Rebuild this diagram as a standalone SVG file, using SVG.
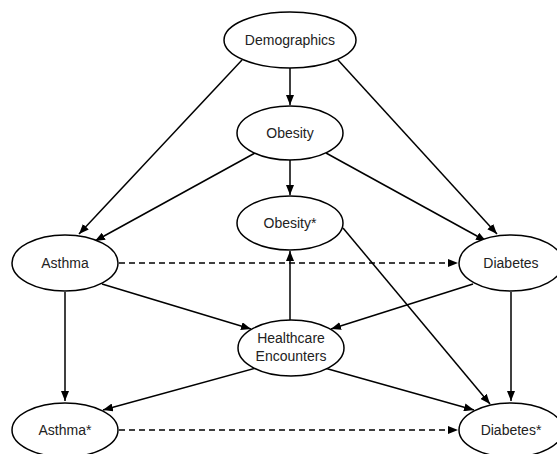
<svg xmlns="http://www.w3.org/2000/svg" width="557" height="454" viewBox="0 0 557 454">
<defs>
<marker id="ah" markerWidth="10" markerHeight="8" refX="10" refY="4" orient="auto" markerUnits="userSpaceOnUse">
<path d="M0,0 L10,4 L0,8 Z" fill="#000"/>
</marker>
<style>
.n ellipse{fill:#fff;stroke:#000;stroke-width:1.5}
.n text{font-family:"Liberation Sans",Arial,sans-serif;font-size:14px;fill:#222;text-anchor:middle}
.e line{stroke:#000;stroke-width:1.5;marker-end:url(#ah)}
.e line.d{stroke-dasharray:6,4}
</style>
</defs>
<rect width="557" height="454" fill="#fff"/>
<g id="connectors" class="e">
<line x1="290" y1="68" x2="290" y2="105"/>
<line x1="242" y1="60" x2="79" y2="234"/>
<line x1="338" y1="60" x2="497" y2="234"/>
<line x1="255" y1="153" x2="95" y2="241"/>
<line x1="326" y1="153" x2="486" y2="241"/>
<line x1="290" y1="160" x2="290" y2="195"/>
<line x1="343" y1="228" x2="490" y2="404"/>
<line class="d" x1="119" y1="263" x2="458" y2="263"/>
<line x1="102" y1="284" x2="251" y2="329"/>
<line x1="473" y1="284" x2="331" y2="329"/>
<line x1="290" y1="320" x2="290" y2="251"/>
<line x1="65" y1="292" x2="65" y2="401"/>
<line x1="511" y1="292" x2="511" y2="401"/>
<line x1="260" y1="367" x2="103" y2="410"/>
<line x1="321" y1="367" x2="474" y2="410"/>
<line class="d" x1="119" y1="430" x2="458" y2="430"/>
</g>
<g id="demographics" class="n"><ellipse cx="290" cy="40" rx="66" ry="28"/><text x="290" y="45">Demographics</text></g>
<g id="obesity" class="n"><ellipse cx="290" cy="133" rx="53" ry="27"/><text x="290" y="138">Obesity</text></g>
<g id="obesity-star" class="n"><ellipse cx="290" cy="223" rx="53" ry="27"/><text x="290" y="228">Obesity*</text></g>
<g id="asthma" class="n"><ellipse cx="65" cy="263" rx="53" ry="28"/><text x="65" y="268">Asthma</text></g>
<g id="diabetes" class="n"><ellipse cx="511" cy="263" rx="52" ry="28"/><text x="511" y="268">Diabetes</text></g>
<g id="healthcare" class="n"><ellipse cx="291" cy="348" rx="53" ry="28"/><text x="291" y="343">Healthcare</text><text x="291" y="361">Encounters</text></g>
<g id="asthma-star" class="n"><ellipse cx="65" cy="430" rx="53" ry="27"/><text x="65" y="435">Asthma*</text></g>
<g id="diabetes-star" class="n"><ellipse cx="511" cy="430" rx="52" ry="27"/><text x="511" y="435">Diabetes*</text></g>
</svg>
